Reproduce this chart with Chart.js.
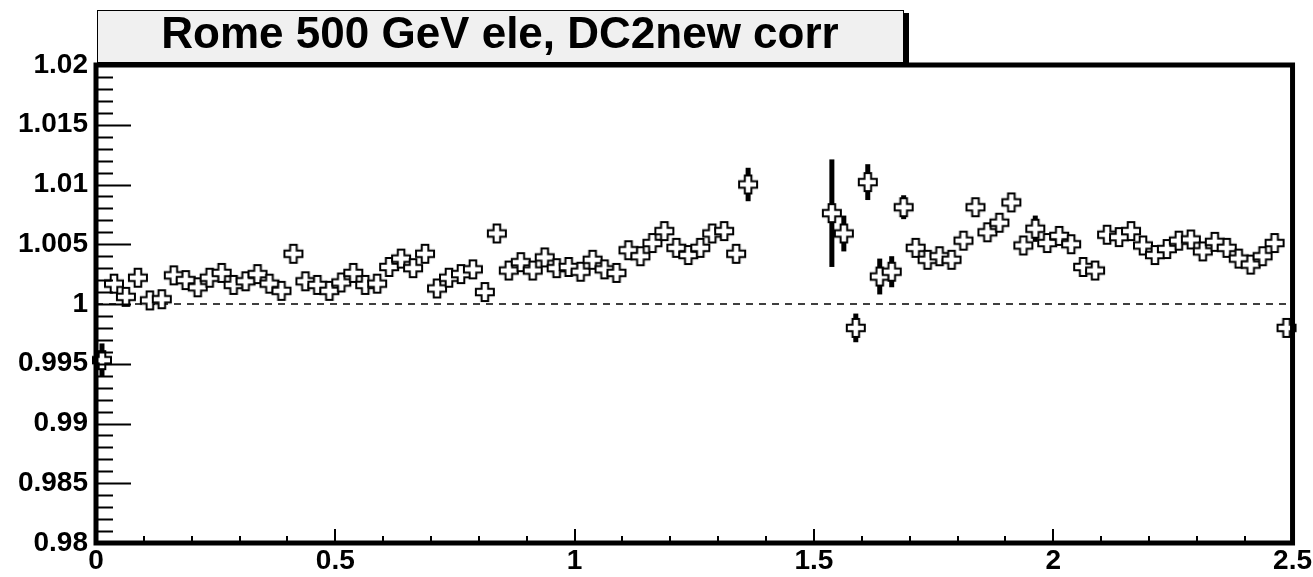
<!DOCTYPE html>
<html>
<head>
<meta charset="utf-8">
<script src="https://cdn.jsdelivr.net/npm/chart.js@4.4.1/dist/chart.umd.min.js"></script>
<style>
  html, body { margin: 0; padding: 0; background: #fff; }
  #wrap { width: 1313px; height: 577px; }
</style>
</head>
<body>
<div id="wrap"><canvas id="ratioChart" width="1313" height="577"></canvas></div>
<script>
// titlu + date
var titleText = "Rome 500 GeV ele, DC2new corr"

// centrele binurilor in eta (latime 0.025)
var etaBins = [
  0.0125, 0.0375, 0.0625, 0.0875, 0.1125, 0.1375, 0.1625, 0.1875, 0.2125, 0.2375,
  0.2625, 0.2875, 0.3125, 0.3375, 0.3625, 0.3875, 0.4125, 0.4375, 0.4625, 0.4875,
  0.5125, 0.5375, 0.5625, 0.5875, 0.6125, 0.6375, 0.6625, 0.6875, 0.7125, 0.7375,
  0.7625, 0.7875, 0.8125, 0.8375, 0.8625, 0.8875, 0.9125, 0.9375, 0.9625, 0.9875,
  1.0125, 1.0375, 1.0625, 1.0875, 1.1125, 1.1375, 1.1625, 1.1875, 1.2125, 1.2375,
  1.2625, 1.2875, 1.3125, 1.3375, 1.3625, 1.3875, 1.4125, 1.4375, 1.4625, 1.4875,
  1.5125, 1.5375, 1.5625, 1.5875, 1.6125, 1.6375, 1.6625, 1.6875, 1.7125, 1.7375,
  1.7625, 1.7875, 1.8125, 1.8375, 1.8625, 1.8875, 1.9125, 1.9375, 1.9625, 1.9875,
  2.0125, 2.0375, 2.0625, 2.0875, 2.1125, 2.1375, 2.1625, 2.1875, 2.2125, 2.2375,
  2.2625, 2.2875, 2.3125, 2.3375, 2.3625, 2.3875, 2.4125, 2.4375, 2.4625, 2.4875
]

var ratio = [
  0.9953, 1.0017, 1.0006, 1.0022, 1.0003, 1.0004, 1.0024, 1.0020, 1.0014, 1.0022,
  1.0026, 1.0016, 1.0019, 1.0025, 1.0017, 1.0011, 1.0042, 1.0019, 1.0016, 1.0011,
  1.0018, 1.0026, 1.0016, 1.0017, 1.0031, 1.0038, 1.0030, 1.0042, 1.0013, 1.0022,
  1.0025, 1.0029, 1.0010, 1.0059, 1.0028, 1.0035, 1.0028, 1.0039, 1.0030, 1.0031,
  1.0027, 1.0037, 1.0029, 1.0026, 1.0045, 1.0040, 1.0051, 1.0061, 1.0047, 1.0041,
  1.0047, 1.0059, 1.0061, 1.0042, 1.0100, null, null, null, null, null,
  null, 1.0076, 1.0059, 0.9980, 1.0102, 1.0023, 1.0027, 1.0081, 1.0047, 1.0037,
  1.0040, 1.0037, 1.0053, 1.0081, 1.0060, 1.0068, 1.0085, 1.0049, 1.0063, 1.0051,
  1.0057, 1.0050, 1.0031, 1.0028, 1.0058, 1.0056, 1.0061, 1.0049, 1.0041, 1.0046,
  1.0053, 1.0054, 1.0044, 1.0052, 1.0047, 1.0038, 1.0033, 1.0040, 1.0051, 0.9980
]

var ratioErr = [
  0.0014, 0.0004, 0.0004, 0.0004, 0.0004, 0.0004, 0.0004, 0.0004, 0.0004, 0.0004,
  0.0004, 0.0004, 0.0004, 0.0004, 0.0004, 0.0004, 0.0004, 0.0004, 0.0004, 0.0004,
  0.0004, 0.0004, 0.0004, 0.0004, 0.0004, 0.0004, 0.0004, 0.0004, 0.0004, 0.0004,
  0.0004, 0.0004, 0.0004, 0.0004, 0.0004, 0.0004, 0.0004, 0.0004, 0.0004, 0.0004,
  0.0004, 0.0004, 0.0004, 0.0004, 0.0004, 0.0004, 0.0004, 0.0004, 0.0004, 0.0004,
  0.0004, 0.0004, 0.0007, 0.0008, 0.0014, null, null, null, null, null,
  null, 0.0045, 0.0015, 0.0012, 0.0015, 0.0015, 0.0013, 0.0010, 0.0004, 0.0004,
  0.0004, 0.0004, 0.0004, 0.0004, 0.0004, 0.0004, 0.0004, 0.0004, 0.0011, 0.0004,
  0.0004, 0.0004, 0.0004, 0.0004, 0.0004, 0.0004, 0.0004, 0.0004, 0.0004, 0.0004,
  0.0004, 0.0004, 0.0004, 0.0004, 0.0004, 0.0004, 0.0004, 0.0004, 0.0004, 0.0005
]

// linia de referinta la 1
var refX = [0, 2.5]
var refY = [1, 1]

// etichete axe
var xTickValues = [0, 0.5, 1, 1.5, 2, 2.5]
var xTickLabels = ["0", "0.5", "1", "1.5", "2", "2.5"]
var yTickValues = [0.98, 0.985, 0.99, 0.995, 1, 1.005, 1.01, 1.015, 1.02]
var yTickLabels = ["0.98", "0.985", "0.99", "0.995", "1", "1.005", "1.01", "1.015", "1.02"]

var tickFont = { family: "'Liberation Sans', Arial, sans-serif", size: 28, weight: "bold" }

// marker ROOT tip 28 (cruce goala)
function makeCross() {
  var c = document.createElement("canvas")
  c.width = 22
  c.height = 22
  var g = c.getContext("2d")
  var m = 11, h = 9, a = 3.3
  g.beginPath()
  g.moveTo(m - a, m - h)
  g.lineTo(m + a, m - h)
  g.lineTo(m + a, m - a)
  g.lineTo(m + h, m - a)
  g.lineTo(m + h, m + a)
  g.lineTo(m + a, m + a)
  g.lineTo(m + a, m + h)
  g.lineTo(m - a, m + h)
  g.lineTo(m - a, m + a)
  g.lineTo(m - h, m + a)
  g.lineTo(m - h, m - a)
  g.lineTo(m - a, m - a)
  g.closePath()
  g.fillStyle = "#fff"
  g.fill()
  g.lineWidth = 2
  g.strokeStyle = "#000"
  g.stroke()
  return c
}

var points = []
for (var i = 0; i < etaBins.length; i++) {
  if (ratio[i] !== null) points.push({ x: etaBins[i], y: ratio[i] })
}

var refPoints = []
for (var j = 0; j < refX.length; j++) refPoints.push({ x: refX[j], y: refY[j] })

// bare de eroare sub markere
var errorBars = {
  id: "errorBars",
  beforeDatasetsDraw: function (chart) {
    var ctx = chart.ctx
    var xs = chart.scales.x, ys = chart.scales.y
    ctx.save()
    ctx.strokeStyle = "#000"
    ctx.lineWidth = 5
    for (var i = 0; i < etaBins.length; i++) {
      if (ratio[i] === null) continue
      var px = xs.getPixelForValue(etaBins[i])
      ctx.beginPath()
      ctx.moveTo(px, ys.getPixelForValue(ratio[i] - ratioErr[i]))
      ctx.lineTo(px, ys.getPixelForValue(ratio[i] + ratioErr[i]))
      ctx.stroke()
    }
    ctx.restore()
  }
}

// rama + ticks spre interior, stil ROOT
var frameTicks = {
  id: "frameTicks",
  afterDatasetsDraw: function (chart) {
    var ctx = chart.ctx
    var a = chart.chartArea
    var xs = chart.scales.x, ys = chart.scales.y
    ctx.save()
    ctx.strokeStyle = "#000"
    ctx.lineWidth = 2
    ctx.beginPath()
    // y: major 0.005, minor 0.001
    for (var k = 0; k <= 40; k++) {
      var v = 0.98 + k * 0.001
      var py = Math.round(ys.getPixelForValue(v)) + 0.5
      var len = k % 5 === 0 ? 35 : 17
      ctx.moveTo(a.left, py)
      ctx.lineTo(a.left + len, py)
    }
    // x: major 0.5, minor 0.1
    for (var n = 0; n <= 25; n++) {
      var px = Math.round(xs.getPixelForValue(n * 0.1))
      var l2 = n % 5 === 0 ? 14 : 7
      ctx.moveTo(px, a.bottom)
      ctx.lineTo(px, a.bottom - l2)
    }
    ctx.stroke()
    ctx.lineWidth = 5
    ctx.strokeRect(a.left, a.top, a.right - a.left, a.bottom - a.top)
    ctx.restore()
  },
  afterDraw: function (chart) {
    var ctx = chart.ctx
    ctx.save()
    // umbra casetei de titlu
    ctx.fillStyle = "#000"
    ctx.fillRect(903, 13, 6, 52)
    ctx.fillStyle = "#f0f0f0"
    ctx.fillRect(97, 10, 806, 52)
    ctx.strokeStyle = "#000"
    ctx.lineWidth = 1
    ctx.strokeRect(97.5, 10.5, 806, 52)
    ctx.fillStyle = "#000"
    ctx.font = "bold 44px 'Liberation Sans', Arial, sans-serif"
    ctx.textAlign = "center"
    ctx.textBaseline = "middle"
    ctx.fillText(titleText, 500, 36)
    ctx.restore()
  }
}

new Chart(document.getElementById("ratioChart"), {
  type: "scatter",
  data: {
    datasets: [
      {
        label: "ratio",
        data: points,
        pointStyle: makeCross(),
        pointRadius: 9,
        showLine: false,
        clip: false,
        order: 1
      },
      {
        label: "ref",
        data: refPoints,
        showLine: true,
        borderColor: "#000",
        borderWidth: 1.6,
        borderDash: [7, 6],
        pointRadius: 0,
        order: 2
      }
    ]
  },
  options: {
    responsive: false,
    animation: false,
    devicePixelRatio: 1,
    layout: { padding: { top: 65, right: 20, left: 0, bottom: 0 } },
    plugins: {
      legend: { display: false },
      title: { display: false },
      tooltip: { enabled: false }
    },
    scales: {
      x: {
        type: "linear",
        min: 0,
        max: 2.5,
        afterFit: function (s) { s.height = 34 },
        afterBuildTicks: function (s) { s.ticks = xTickValues.map(function (v) { return { value: v } }) },
        ticks: {
          font: tickFont,
          color: "#000",
          padding: 1,
          maxRotation: 0,
          autoSkip: false,
          callback: function (v, i) { return xTickLabels[i] }
        },
        grid: { display: false, drawTicks: false, tickLength: 0 },
        border: { display: false }
      },
      y: {
        min: 0.98,
        max: 1.02,
        afterFit: function (s) { s.width = 96 },
        afterBuildTicks: function (s) { s.ticks = yTickValues.map(function (v) { return { value: v } }) },
        ticks: {
          font: tickFont,
          color: "#000",
          padding: 8,
          autoSkip: false,
          callback: function (v, i) { return yTickLabels[i] }
        },
        grid: { display: false, drawTicks: false, tickLength: 0 },
        border: { display: false }
      }
    }
  },
  plugins: [errorBars, frameTicks]
})
</script>
</body>
</html>
